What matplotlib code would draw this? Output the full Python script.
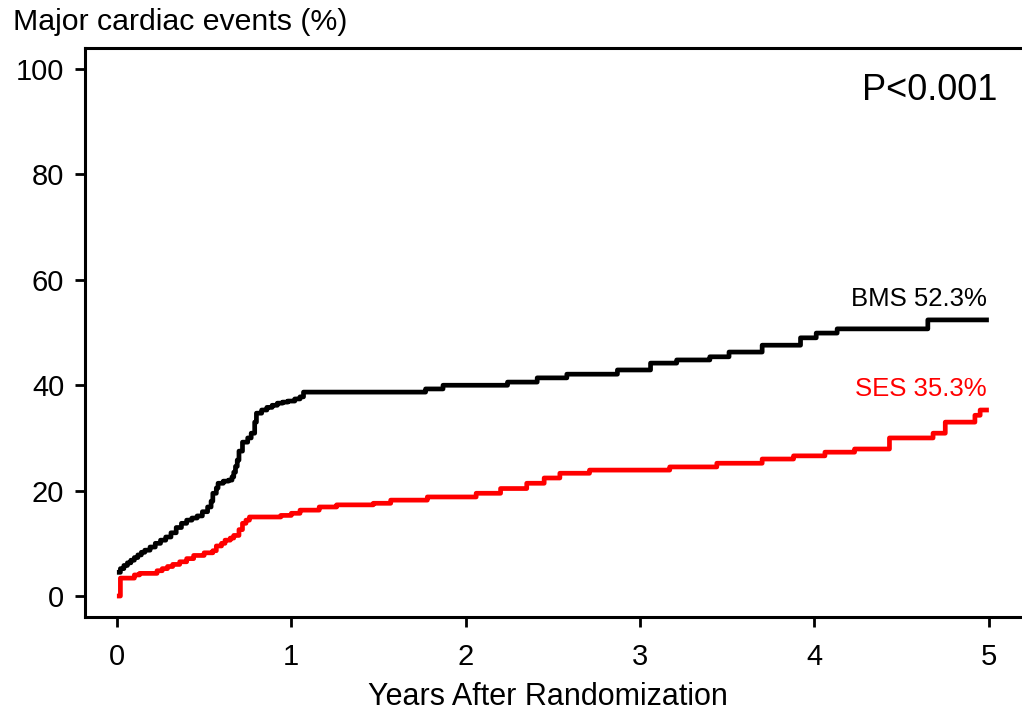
import matplotlib
matplotlib.use("Agg")
import matplotlib.pyplot as plt

plt.rcParams['font.family'] = ['Liberation Sans', 'DejaVu Sans']

# Kaplan-Meier style step data (years, cumulative %)
bms_t = [0, 0.02, 0.04, 0.06, 0.08, 0.10, 0.12, 0.14, 0.16, 0.19, 0.22, 0.25,
         0.28, 0.31, 0.34, 0.37, 0.40, 0.43, 0.46, 0.49, 0.52, 0.54, 0.55, 0.57,
         0.58, 0.61, 0.64, 0.66, 0.67, 0.68, 0.69, 0.70, 0.72, 0.75, 0.77, 0.79,
         0.80, 0.83, 0.86, 0.89, 0.92, 0.95, 0.98, 1.02, 1.05, 1.07, 1.77, 1.87,
         2.24, 2.41, 2.58, 2.87, 3.06, 3.21, 3.40, 3.51, 3.70, 3.92, 4.01, 4.13,
         4.65, 5.0]
bms_v = [4.5, 5.2, 5.8, 6.3, 6.8, 7.3, 7.8, 8.3, 8.7, 9.3, 10.0, 10.6,
         11.2, 12.0, 13.0, 13.8, 14.4, 14.8, 15.2, 16.0, 16.9, 18.0, 19.5, 20.5,
         21.4, 21.8, 22.0, 22.6, 23.5, 24.6, 25.8, 27.5, 29.2, 30.0, 30.9, 33.0,
         34.7, 35.3, 35.8, 36.2, 36.6, 36.8, 37.0, 37.4, 37.8, 38.7, 39.3, 40.0,
         40.6, 41.4, 42.1, 42.9, 44.2, 44.8, 45.4, 46.3, 47.6, 49.0, 49.9, 50.7,
         52.4, 52.4]

ses_t = [0, 0.02, 0.10, 0.13, 0.23, 0.26, 0.29, 0.32, 0.36, 0.40, 0.44, 0.50,
         0.55, 0.57, 0.60, 0.62, 0.65, 0.67, 0.70, 0.72, 0.74, 0.76, 0.94, 1.00,
         1.05, 1.16, 1.26, 1.47, 1.57, 1.78, 2.06, 2.20, 2.35, 2.45, 2.54, 2.71,
         3.17, 3.44, 3.70, 3.88, 4.06, 4.23, 4.43, 4.68, 4.75, 4.92, 4.95, 5.0]
ses_v = [0, 3.4, 4.0, 4.3, 4.8, 5.2, 5.6, 6.0, 6.5, 7.1, 7.7, 8.2,
         8.6, 9.5, 10.0, 10.6, 11.0, 11.5, 12.6, 13.8, 14.4, 15.0, 15.3, 15.7,
         16.3, 16.9, 17.3, 17.6, 18.2, 18.8, 19.5, 20.4, 21.4, 22.4, 23.3, 23.9,
         24.5, 25.2, 26.0, 26.6, 27.3, 27.9, 30.0, 30.9, 33.0, 34.3, 35.3, 35.3]

xticks = [0, 1, 2, 3, 4, 5]
yticks = [0, 20, 40, 60, 80, 100]

fig = plt.figure(figsize=(10.22, 7.15), dpi=100)
ax = fig.add_axes([85 / 1022, 1 - 617 / 715, (1022 - 85) / 1022, (617 - 48) / 715])

ax.plot(bms_t, bms_v, drawstyle='steps-post', color='black', lw=3.4,
        solid_joinstyle='round', solid_capstyle='butt', snap=False)
ax.plot(ses_t, ses_v, drawstyle='steps-post', color='#ff0000', lw=3.4,
        solid_joinstyle='round', solid_capstyle='butt', snap=False)

ax.set_xlim(-0.183, 5.19)
ax.set_ylim(-3.98, 104.0)
ax.set_xticks(xticks)
ax.set_yticks(yticks)
ax.tick_params(axis='both', labelsize=21, width=2, length=7, direction='out')
ax.tick_params(axis='x', pad=12)
ax.tick_params(axis='y', pad=8)

for side in ['left', 'bottom', 'top']:
    ax.spines[side].set_linewidth(2.2)
ax.spines['right'].set_visible(False)

ax.text(4.99, 56.4, 'BMS 52.3%', color='black', fontsize=18.5, ha='right', va='center')
ax.text(4.99, 39.3, 'SES 35.3%', color='#ff0000', fontsize=18.5, ha='right', va='center')
ax.text(5.05, 96.0, 'P<0.001', color='black', fontsize=26, ha='right', va='center')

fig.text(13 / 1022, 1 - 22 / 715, 'Major cardiac events (%)', fontsize=21.8, ha='left', va='center')
fig.text(548 / 1022, 1 - 697 / 715, 'Years After Randomization', fontsize=22, ha='center', va='center')

fig.savefig('out.png', dpi=100)
